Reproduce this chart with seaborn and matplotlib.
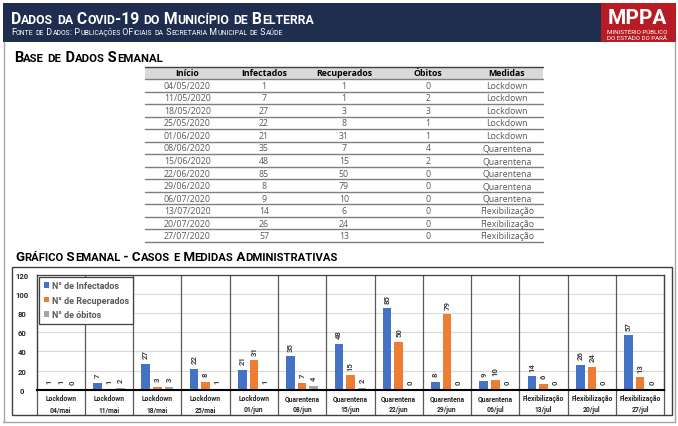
import matplotlib
matplotlib.use("Agg")
import matplotlib.pyplot as plt
import seaborn as sns
import pandas as pd
from matplotlib.lines import Line2D
from matplotlib.patches import Rectangle

# ---------------- data ----------------
inicio = ["04/05/2020", "11/05/2020", "18/05/2020", "25/05/2020", "01/06/2020",
          "08/06/2020", "15/06/2020", "22/06/2020", "29/06/2020", "06/07/2020",
          "13/07/2020", "20/07/2020", "27/07/2020"]
infectados = [1, 7, 27, 22, 21, 35, 48, 85, 8, 9, 14, 26, 57]
recuperados = [1, 1, 3, 8, 31, 7, 15, 50, 79, 10, 6, 24, 13]
obitos = [0, 2, 3, 1, 1, 4, 2, 0, 0, 0, 0, 0, 0]
medidas = ["Lockdown", "Lockdown", "Lockdown", "Lockdown", "Lockdown",
           "Quarentena", "Quarentena", "Quarentena", "Quarentena", "Quarentena",
           "Flexibilização", "Flexibilização", "Flexibilização"]
semanas = ["04/mai", "11/mai", "18/mai", "25/mai", "01/jun", "08/jun", "15/jun",
           "22/jun", "29/jun", "06/jul", "13/jul", "20/jul", "27/jul"]
series_names = ["N° de Infectados", "N° de Recuperados", "N° de óbitos"]
colunas = ["Início", "Infectados", "Recuperados", "Óbitos", "Medidas"]
yticks = [0, 20, 40, 60, 80, 100, 120]

titulo = "Dados da Covid-19 do Município de Belterra"
subtitulo = "Fonte de Dados: Publicações OFiciais da Secretaria Municipal de Saúde"
titulo_tabela = "Base de Dados Semanal"
titulo_grafico = "Gráfico Semanal - Casos e Medidas Administrativas"

df = pd.DataFrame({
    "semana": semanas * 3,
    "valor": infectados + recuperados + obitos,
    "serie": [n for n in series_names for _ in semanas],
})

# ---------------- style ----------------
sns.set_theme(style="white")
BOLD = ["Roboto", "DejaVu Sans"]
TAB = ["Open Sans", "DejaVu Sans"]
plt.rcParams["font.family"] = BOLD

W, H = 678, 427
fig = plt.figure(figsize=(W / 100, H / 100), dpi=100)
fig.patch.set_facecolor("white")
renderer = fig.canvas.get_renderer()

NAVY = "#1f2d4e"
RED = "#b71c24"
colors = ["#4472C4", "#ED7D31", "#A5A5A5"]


def fx(x):
    return x / W


def fy(y):
    return 1 - y / H


def hline(x0, x1, y, color, lw=1.0):
    fig.add_artist(Line2D([fx(x0), fx(x1)], [fy(y), fy(y)], color=color, lw=lw,
                          transform=fig.transFigure))


def vline(x, y0, y1, color, lw=1.0):
    fig.add_artist(Line2D([fx(x), fx(x)], [fy(y0), fy(y1)], color=color, lw=lw,
                          transform=fig.transFigure))


def rect(x0, y0, x1, y1, **kw):
    fig.add_artist(Rectangle((fx(x0), fy(y1)), fx(x1) - fx(x0), fy(y0) - fy(y1),
                             transform=fig.transFigure, **kw))


def _w(s, size, weight, family):
    t = fig.text(0, 0, s, fontsize=size, fontweight=weight, family=family)
    w = t.get_window_extent(renderer).width
    t.remove()
    return w


def run_width(s, size, weight, family):
    return _w("I" + s + "I", size, weight, family) - _w("II", size, weight, family)


def smallcaps(x, y, s, size, color, weight="bold", family=BOLD, ratio=0.78):
    runs = []
    for ch in s:
        big = not ch.islower()
        if runs and runs[-1][1] == big:
            runs[-1][0] += ch
        else:
            runs.append([ch, big])
    cx = x
    for txt, big in runs:
        fs = size if big else size * ratio
        r = txt.upper()
        fig.text(fx(cx), fy(y), r, fontsize=fs, fontweight=weight, family=family,
                 color=color, ha="left", va="baseline")
        cx += run_width(r, fs, weight, family)


# ---------------- header ----------------
rect(3, 4, 601, 43, facecolor=NAVY, edgecolor="none")
rect(601, 4, 676, 43, facecolor=RED, edgecolor="none")
smallcaps(11, 24.5, titulo, 11.3, "white")
smallcaps(11, 35, subtitulo, 6.4, "white", weight="normal")
fig.text(fx(637), fy(23.5), "MPPA", fontsize=15, fontweight="bold", family=BOLD,
         color="white", ha="center", va="baseline")
fig.text(fx(637), fy(34.3), "MINISTÉRIO PÚBLICO", fontsize=4.5, family=BOLD,
         color="white", ha="center", va="baseline")
fig.text(fx(637), fy(40.2), "DO ESTADO DO PARÁ", fontsize=4.5, family=BOLD,
         color="white", ha="center", va="baseline")

# page border
vline(3.5, 43, 423, "#a6a6a6")
vline(674.5, 43, 423, "#a6a6a6")
hline(3, 675, 423, "#a6a6a6")

# ---------------- table ----------------
smallcaps(14, 61.7, titulo_tabela, 10.5, "black")
TL, TR = 145, 543
top, hb = 68, 80
rowh = 12.54
rect(TL, top, TR, hb, facecolor="#d9d9d9", edgecolor="none")
hline(TL, TR, top, "#404040", 1.0)
hline(TL, TR, hb, "#7f7f7f", 1.0)
col_x = [187.5, 264, 344, 428, 507]
for cx, c in zip(col_x, colunas):
    fig.text(fx(cx), fy(74), c, fontsize=6.3, fontweight="bold", family=TAB,
             color="black", ha="center", va="center")
for k in range(len(inicio)):
    yc = hb + rowh * (k + 0.5)
    vals = [inicio[k], str(infectados[k]), str(recuperados[k]), str(obitos[k]), medidas[k]]
    for cx, v in zip(col_x, vals):
        fig.text(fx(cx), fy(yc), v, fontsize=6.3, family=TAB, color="#595959",
                 ha="center", va="center")
    hline(TL, TR, hb + rowh * (k + 1), "#7f7f7f", 1.0)

# ---------------- chart ----------------
smallcaps(15, 261, titulo_grafico, 9.6, "black", ratio=0.84)
rect(12, 268.3, 671.7, 416, fill=False, edgecolor="#404040", lw=1.0)

AX_L, AX_R, AX_T, AX_B = 36.5, 664.3, 276, 390.7
ax = fig.add_axes([fx(AX_L), fy(AX_B), (AX_R - AX_L) / W, (AX_B - AX_T) / H])
sns.barplot(data=df, x="semana", y="valor", hue="serie", order=semanas,
            hue_order=series_names, palette=colors, saturation=1, width=0.72,
            gap=0.26, errorbar=None, linewidth=0, ax=ax)
ax.set_xlim(-0.5, len(semanas) - 0.5)
ax.set_ylim(0, 120)
ax.set_yticks(yticks)
ax.set_xlabel("")
ax.set_ylabel("")
ax.set_xticks(range(len(semanas)))
ax.set_xticklabels([])
ax.tick_params(axis="x", length=0)
ax.tick_params(axis="y", length=0, pad=10.4, labelsize=5.5)
for lbl in ax.get_yticklabels():
    lbl.set_ha("center")
    lbl.set_fontweight("bold")
    lbl.set_color("#262626")
ax.yaxis.grid(True, color="#d9d9d9", lw=0.8)
ax.set_axisbelow(True)
for s in ["left", "right", "top"]:
    ax.spines[s].set_color("#404040")
    ax.spines[s].set_linewidth(0.9)
ax.spines["bottom"].set_color("black")
ax.spines["bottom"].set_linewidth(1.5)

for cont in ax.containers:
    ax.bar_label(cont, padding=4, rotation=90, fontsize=5.6, fontweight="bold",
                 color="#404040")

below = -(416 - AX_B) / (AX_B - AX_T)
trans = ax.get_xaxis_transform()
for i in range(len(semanas) + 1):
    ax.plot([i - 0.5, i - 0.5], [below, 1], transform=trans, color="#595959",
            lw=0.9, clip_on=False)
for i, (m, s) in enumerate(zip(medidas, semanas)):
    ax.annotate(m, xy=(i, 0), xycoords=("data", "axes fraction"), xytext=(0, -6.2),
                textcoords="offset points", ha="center", va="center", fontsize=4.9,
                fontweight="bold", color="#262626", annotation_clip=False)
    ax.annotate(s, xy=(i, 0), xycoords=("data", "axes fraction"), xytext=(0, -13.9),
                textcoords="offset points", ha="center", va="center", fontsize=4.9,
                fontweight="bold", color="#262626", annotation_clip=False)

handles, labels = ax.get_legend_handles_labels()
leg = ax.legend(handles, labels, loc="upper left", bbox_to_anchor=(0.004, 0.985),
                borderaxespad=0, fancybox=False, framealpha=1, edgecolor="#404040",
                handlelength=0.6, handleheight=0.6, handletextpad=0.3,
                labelspacing=0.6, borderpad=0.5, prop={"weight": "bold", "size": 6.5,
                                                        "family": BOLD})
leg.get_frame().set_linewidth(0.9)
for t in leg.get_texts():
    t.set_color("#595959")

fig.savefig("out.png", dpi=100)
